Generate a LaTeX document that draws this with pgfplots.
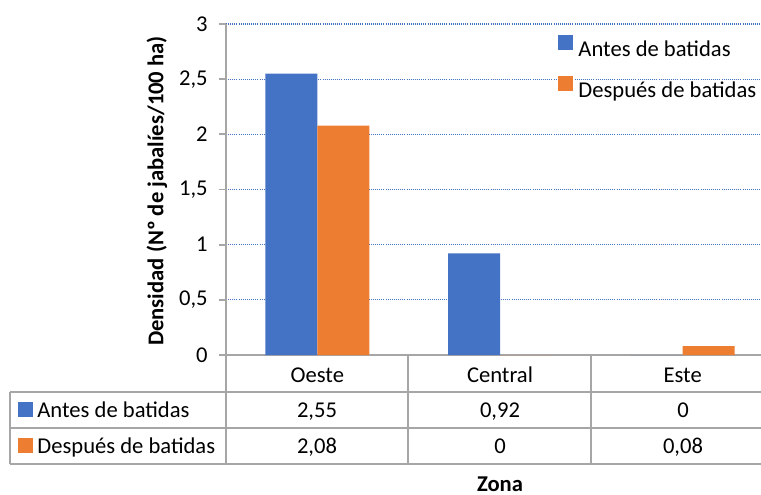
\documentclass[border=0pt]{standalone}
\usepackage{fontspec}
\setmainfont{Carlito}
\usepackage{pgfplots}
\pgfplotsset{compat=1.18}
\definecolor{cblue}{HTML}{4472C4}
\definecolor{corange}{HTML}{ED7D31}
\definecolor{cgrid}{HTML}{4472C4}
\definecolor{cline}{HTML}{A6A6A6}
\newcommand{\fs}{\fontsize{11.3}{13.5}\selectfont}
\begin{document}
\begin{tikzpicture}
\useasboundingbox (0,0) rectangle (380.5pt,247pt);
\begin{axis}[
  at={(113pt,69.5pt)}, anchor=south west,
  scale only axis, width=274pt, height=165.5pt,
  xmin=-0.5, xmax=2.5, ymin=0, ymax=3,
  ybar=0pt, bar width=26pt,
  axis x line*=bottom, axis y line*=left,
  axis line style={draw=cline, line width=0.9pt, -},
  ytick={0,0.5,1,1.5,2,2.5,3},
  yticklabels={0,{0,5},1,{1,5},2,{2,5},3},
  xtick={0,1,2}, xticklabels={Oeste,Central,Este},
  tick align=outside, major tick length=3.5pt,
  xtick style={draw=none},
  ytick style={draw=cline, line width=0.9pt},
  ymajorgrids,
  grid style={cgrid, line width=0.6pt, dash pattern=on 0.5pt off 0.55pt},
  ticklabel style={font=\fs, text=black},
  yticklabel style={anchor=east, inner sep=0pt, xshift=-5.5pt},
  xticklabel style={anchor=base, inner sep=0pt, yshift=-10pt},
  xlabel={\bfseries Zona},
  xlabel style={at={(0.5,-0.4109)}, anchor=base, font=\fs, inner sep=0pt},
  ylabel={\bfseries Densidad (Nº de jabalíes/100 ha)},
  ylabel style={at={(-0.1259,0.4955)}, anchor=center, font=\fs, inner sep=0pt},
  legend style={at={(0.606,0.967)}, anchor=north west, draw=none, fill=none,
    font=\fs, row sep=8.5pt, column sep=2.5pt, inner sep=0pt, nodes={inner sep=0pt}},
  legend cell align=left,
  legend image code/.code={\fill[#1] (0pt,-0.1pt) rectangle (7.5pt,7.4pt);},
]
\addplot[fill=cblue, draw=none] coordinates {(0,2.55) (1,0.92) (2,0)};
\addplot[fill=corange, draw=none] coordinates {(0,2.08) (1,0) (2,0.08)};
\legend{Antes de batidas, Después de batidas}
\end{axis}
\begin{scope}[x=0.5pt, y=-0.5pt, shift={(0pt,247pt)}]
  \draw[cline, line width=0.9pt] (10,392) -- (790,392);
  \draw[cline, line width=0.9pt] (10,428) -- (790,428);
  \draw[cline, line width=0.9pt] (10,464) -- (790,464);
  \draw[cline, line width=0.9pt] (10,392) -- (10,464);
  \draw[cline, line width=0.9pt] (226,355) -- (226,464);
  \draw[cline, line width=0.9pt] (408,355) -- (408,464);
  \draw[cline, line width=0.9pt] (591,355) -- (591,464);
  \fill[cblue] (18,402) rectangle (33,417);
  \fill[corange] (18,438) rectangle (33,453);
  \node[anchor=base west, font=\fs, inner sep=0pt] at (37,417) {Antes de batidas};
  \node[anchor=base west, font=\fs, inner sep=0pt] at (37,453) {Después de batidas};
  \node[anchor=base, font=\fs, inner sep=0pt] at (317,417) {2,55};
  \node[anchor=base, font=\fs, inner sep=0pt] at (500,417) {0,92};
  \node[anchor=base, font=\fs, inner sep=0pt] at (683,417) {0};
  \node[anchor=base, font=\fs, inner sep=0pt] at (317,453) {2,08};
  \node[anchor=base, font=\fs, inner sep=0pt] at (500,453) {0};
  \node[anchor=base, font=\fs, inner sep=0pt] at (683,453) {0,08};
\end{scope}
\end{tikzpicture}
\end{document}
